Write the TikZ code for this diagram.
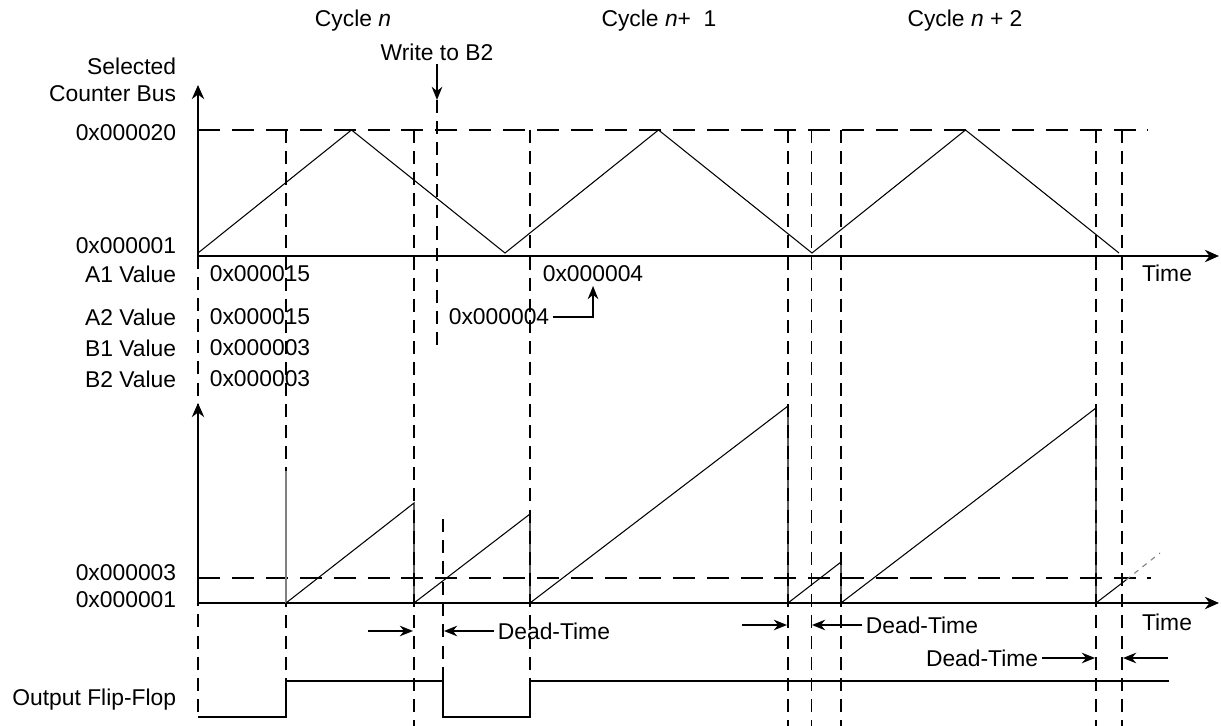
\documentclass[tikz,border=0pt]{standalone}
\usepackage{fontspec}
\setmainfont{Liberation Sans}
\usetikzlibrary{arrows.meta}

\begin{document}
\begin{tikzpicture}[x=0.02cm,y=-0.02cm,
      font=\fontsize{13}{15.1}\selectfont,
      lbl/.style={inner sep=2pt},
      axis/.style={line width=1.4pt,{Stealth[length=8pt,width=7pt]}-{Stealth[length=8pt,width=7pt]}},
      arr/.style={line width=1.1pt,-{Stealth[length=7.5pt,width=6pt]}},
      guide/.style={line width=1.1pt,dash pattern=on 7.4pt off 4.6pt},
      level/.style={line width=1.1pt,dash pattern=on 12.5pt off 6.8pt},
      wave/.style={line width=0.6pt},
      flip/.style={line width=1.1pt}]
  \useasboundingbox (0,0) rectangle (1221,726);

  \node[lbl] (cyc0) at (353,21) {Cycle \textit{n}};
  \node[lbl] (cyc1) at (659,21) {Cycle \textit{n}+\ \ 1};
  \node[lbl] (cyc2) at (965,21) {Cycle \textit{n} + 2};
  \node[lbl] (wr) at (437,52) {Write to B2};
  \coordinate (wrend) at (437,100);

  \node[lbl,anchor=east,align=right] (bus) at (180,80) {Selected\\Counter Bus};
  \node[lbl,anchor=east] (max) at (180,133) {0x000020};
  \node[lbl,anchor=east] (min) at (180,246) {0x000001};
  \node[lbl,anchor=east] (a1) at (180,274) {A1 Value};
  \node[lbl,anchor=east] (a2) at (180,317) {A2 Value};
  \node[lbl,anchor=east] (b1) at (180,348) {B1 Value};
  \node[lbl,anchor=east] (b2) at (180,379) {B2 Value};
  \node[lbl,anchor=west] (a1v) at (206,274) {0x000015};
  \node[lbl,anchor=west] (a2v) at (206,317) {0x000015};
  \node[lbl,anchor=west] (b1v) at (206,348) {0x000003};
  \node[lbl,anchor=west] (b2v) at (206,379) {0x000003};
  \node[lbl,anchor=west] (a1new) at (539,274) {0x000004};
  \node[lbl,anchor=west] (a2new) at (445,317) {0x000004};
  \node[lbl,anchor=east] (thr) at (180,573) {0x000003};
  \node[lbl,anchor=east] (zero) at (180,600) {0x000001};
  \node[lbl] (time1) at (1167,273) {Time};
  \node[lbl] (time2) at (1167,622) {Time};
  \node[lbl,anchor=east] (ff) at (180,700) {Output Flip-Flop};

  \draw[level] (198,130) -- (1148,130);
  \draw[level] (198,578) -- (1151,578);
  \foreach \x in {414,788,811.5,841,1096,1122}
    \draw[guide] (\x,130) -- (\x,726);
  \foreach \x in {286,530}
    \draw[guide] (\x,130) -- (\x,681);
  \draw[guide] (198,256) -- (198,717);
  \draw[guide] (443,519) -- (443,681);
  \draw[guide] (wrend) -- (437,352);

  \draw[axis] (198,85) -- (198,256) -- (1219,256);
  \draw[axis] (198,403) -- (198,603) -- (1219,603);

  \draw[wave] (198,253) -- (351.5,130) -- (505,253) -- (658.5,130) -- (812,253)
    -- (965.5,130) -- (1119,253);
  \draw[wave,gray] (286,603) -- (286,471);
  \draw[wave] (286,603) -- (414,503) -- (414,603) -- (530,514) -- (530,603)
    -- (788,406) -- (788,603) -- (841,562) -- (841,603) -- (1096,408)
    -- (1096,603) -- (1126,580);
  \draw[wave,gray,dash pattern=on 3pt off 3pt] (1126,580) -- (1160,553);
  \draw[flip] (198,717) -- (286,717) -- (286,681) -- (443,681) -- (443,717)
    -- (530,717) -- (530,681) -- (1169,681);

  \draw[arr] (wr) -- (wrend);
  \draw[arr] (a2new.east) -| (a1new.south);

  \node[lbl,anchor=west] (dt1) at (494,631) {Dead-Time};
  \node[lbl,anchor=west] (dt2) at (862,625) {Dead-Time};
  \node[lbl,anchor=east] (dt3) at (1042,658) {Dead-Time};
  \coordinate (d1a) at (368,631);
  \coordinate (d1b) at (413,631);
  \coordinate (d1c) at (444,631);
  \coordinate (d2a) at (742,625);
  \coordinate (d2b) at (787,625);
  \coordinate (d2c) at (812,625);
  \coordinate (d3b) at (1095,658);
  \coordinate (d3c) at (1123,658);
  \coordinate (d3d) at (1168,658);
  \draw[arr] (d1a) -- (d1b);
  \draw[arr] (dt1) -- (d1c);
  \draw[arr] (d2a) -- (d2b);
  \draw[arr] (dt2) -- (d2c);
  \draw[arr] (dt3) -- (d3b);
  \draw[arr] (d3d) -- (d3c);
\end{tikzpicture}
\end{document}
